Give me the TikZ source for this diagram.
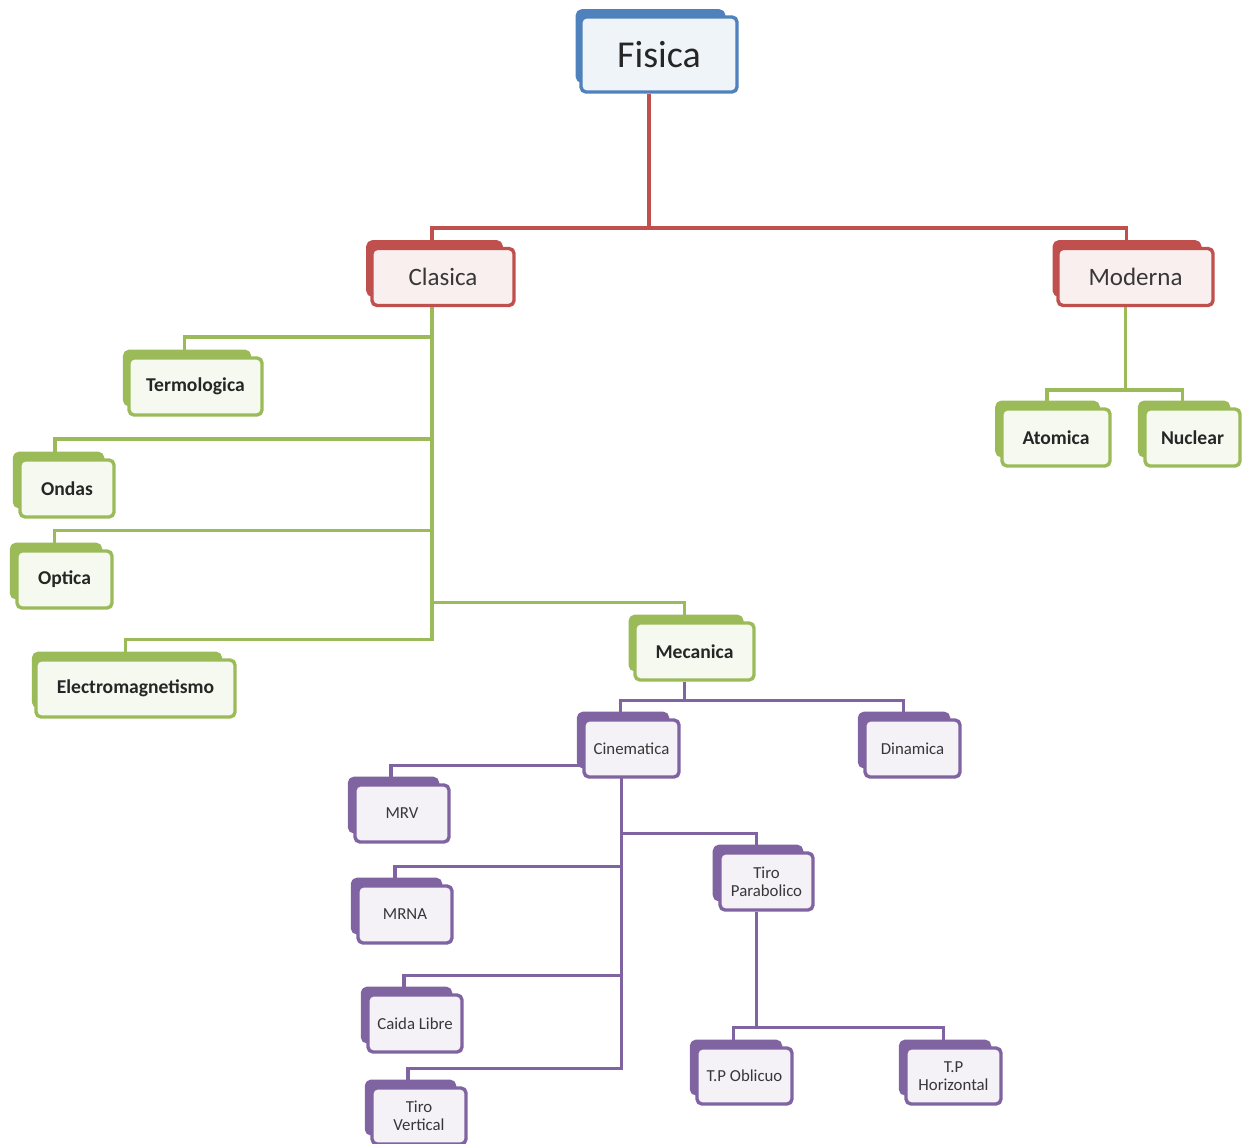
\documentclass[tikz,border=0pt]{standalone}
\usepackage{fontspec}
\setmainfont{Carlito}
\usepackage{tikz}
\definecolor{oblue}{RGB}{79,129,189}
\definecolor{ored}{RGB}{192,80,77}
\definecolor{ogreen}{RGB}{155,187,89}
\definecolor{opurple}{RGB}{128,100,162}
\definecolor{ink}{RGB}{55,55,55}
\usetikzlibrary{calc,shadows,backgrounds}
\tikzset{
    card/.style = {rounded corners=2.5pt, line width=1.7pt, inner sep=1pt, align=center, text=ink,
        draw=#1, fill=#1!9,
        general shadow={shadow xshift=-4.5pt, shadow yshift=4.5pt, shadow scale=0.94, fill=#1, draw=#1}},
    link/.style = {line width=1.8pt, draw=#1},
    big/.style = {font=\fontsize{19}{22}\selectfont, text=black!85},
    mid/.style = {font=\fontsize{12.5}{15}\selectfont},
    lab/.style = {font=\bfseries\fontsize{9.8}{11}\selectfont, text=black!85},
    sml/.style = {font=\fontsize{8.4}{9}\selectfont}
}

\begin{document}
\begin{tikzpicture}[x=0.5pt,y=-0.5pt,line cap=round,line join=round]
	\useasboundingbox (0,0) rectangle (1242,1144);
	% boxes
	\node[card=oblue, big, minimum width=78pt, minimum height=37.5pt] (fisica) at (659,54.5) {Fisica};
	\node[card=ored, mid, minimum width=71pt, minimum height=28.5pt] (clasica) at (443,277) {Clasica};
	\node[card=ored, mid, minimum width=77.5pt, minimum height=28.5pt] (moderna) at (1135.5,277) {Moderna};
	\node[card=ogreen, lab, minimum width=66.5pt, minimum height=28.5pt] (termo) at (195.5,386.5) {Termologica};
	\node[card=ogreen, lab, minimum width=47pt, minimum height=28.5pt] (ondas) at (67,488.5) {Ondas};
	\node[card=ogreen, lab, minimum width=47.5pt, minimum height=28.5pt] (optica) at (64.5,579.5) {Optica};
	\node[card=ogreen, lab, minimum width=99.5pt, minimum height=28.5pt] (electro) at (135.5,688.5) {Electromagnetismo};
	\node[card=ogreen, lab, minimum width=59.5pt, minimum height=28.5pt] (mecanica) at (694.5,651.5) {Mecanica};
	\node[card=ogreen, lab, minimum width=54pt, minimum height=28.5pt] (atomica) at (1056,437.5) {Atomica};
	\node[card=ogreen, lab, minimum width=47.5pt, minimum height=28.5pt] (nuclear) at (1192.5,437.5) {Nuclear};
	\node[card=opurple, sml, minimum width=47.5pt, minimum height=28.5pt] (cinematica) at (631.5,748.5) {Cinematica};
	\node[card=opurple, sml, minimum width=47.5pt, minimum height=28.5pt] (dinamica) at (912.5,748.5) {Dinamica};
	\node[card=opurple, sml, minimum width=47pt, minimum height=28.5pt] (mrv) at (402,813.5) {MRV};
	\node[card=opurple, sml, minimum width=47pt, minimum height=28.5pt] (mrna) at (405,914.5) {MRNA};
	\node[card=opurple, sml, minimum width=47pt, minimum height=28.5pt] (caida) at (415,1023.5) {Caida Libre};
	\node[card=opurple, sml, minimum width=47pt, minimum height=28pt] (tirov) at (419,1116) {Tiro\\Vertical};
	\node[card=opurple, sml, minimum width=46.5pt, minimum height=28.5pt] (tirop) at (766.5,881.5) {Tiro\\Parabolico};
	\node[card=opurple, sml, minimum width=47.5pt, minimum height=28pt] (tpo) at (744.5,1076) {T.P Oblicuo};
	\node[card=opurple, sml, minimum width=47.5pt, minimum height=28pt] (tph) at (953.5,1076) {T.P\\Horizontal};
	% connectors, behind the boxes
	\begin{scope}[on background layer]
	\coordinate (fs) at ($(fisica.south)+(-10,0)$);
	\coordinate (cs) at ($(clasica.south)+(-11,0)$);
	\coordinate (ms) at ($(moderna.south)+(-10,0)$);
	\coordinate (mes) at ($(mecanica.south)+(-10,0)$);
	\coordinate (cis) at ($(cinematica.south)+(-10,0)$);
	\coordinate (tps) at ($(tirop.south)+(-10,0)$);
	\draw[link=ored] (fs) |- ($(clasica.north)+(-11,-19)$) -- ($(clasica.north)+(-11,0)$);
	\draw[link=ored] (fs) |- ($(moderna.north)+(-9,-19)$) -- ($(moderna.north)+(-9,0)$);
	\foreach \n/\dx in {termo/-11,ondas/-12,optica/-10,electro/-10,mecanica/-10}
	  \draw[link=ogreen] (cs) |- ($(\n.north)+(\dx,-19)$) -- ($(\n.north)+(\dx,0)$);
	\foreach \n/\dx in {atomica/-9,nuclear/-10}
	  \draw[link=ogreen] (ms) |- ($(\n.north)+(\dx,-17)$) -- ($(\n.north)+(\dx,0)$);
	\foreach \n/\dx in {cinematica/-11,dinamica/-9}
	  \draw[link=opurple] (mes) |- ($(\n.north)+(\dx,-18)$) -- ($(\n.north)+(\dx,0)$);
	\foreach \n/\dx in {mrv/-11,mrna/-10,caida/-11,tirov/-11,tirop/-10}
	  \draw[link=opurple] (cis) |- ($(\n.north)+(\dx,-18)$) -- ($(\n.north)+(\dx,0)$);
	\foreach \n/\dx in {tpo/-11,tph/-10}
	  \draw[link=opurple] (tps) |- ($(\n.north)+(\dx,-19)$) -- ($(\n.north)+(\dx,0)$);
	\end{scope}
\end{tikzpicture}
\end{document}
